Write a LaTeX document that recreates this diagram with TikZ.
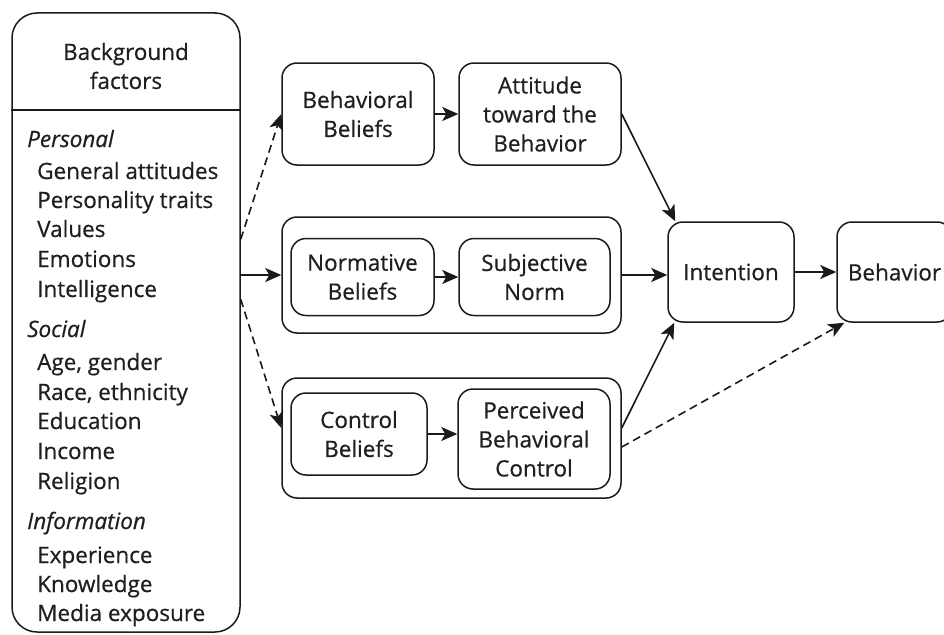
\documentclass[tikz,border=0pt]{standalone}
\usepackage{fontspec}
\setmainfont{Open Sans}[FakeBold=0.6]
\usetikzlibrary{arrows.meta,calc}
\definecolor{txt}{HTML}{1F1F1F}
\definecolor{ln}{HTML}{1A1A1A}
\begin{document}
\begin{tikzpicture}[x=1pt,y=-1pt,
  font=\fontsize{22.5}{29}\selectfont,
  box/.style={draw=ln,line width=1.5pt,rounded corners=15pt,inner sep=0pt,align=center,text=txt},
  item/.style={anchor=base west,inner sep=0pt,text=txt},
  head/.style={anchor=base west,inner sep=0pt,text=txt,font=\fontsize{22.5}{29}\selectfont\itshape},
  arr/.style={draw=ln,line width=1.6pt,-{Stealth[length=16pt,width=14pt,inset=4pt]}},
  darr/.style={arr,dash pattern=on 8pt off 5pt}
]
\useasboundingbox (0,0) rectangle (944,634);
\clip (0,0) rectangle (944,634);

% background factors box
\node[box,rounded corners=25pt,minimum width=228pt,minimum height=619pt] (bg) at (126,322.5) {};
\draw[draw=ln,line width=1.5pt] (bg.west |- 0,110) -- (bg.east |- 0,110);
\node[inner sep=0pt,align=center,text=txt] (bgt) at (126,66) {Background\\factors};
\node[head] (h1) at (27,147) {Personal};
\node[item] (i1) at (37,179) {General attitudes};
\node[item] (i2) at (37,208) {Personality traits};
\node[item] (i3) at (37,237) {Values};
\node[item] (i4) at (37,267) {Emotions};
\node[item] (i5) at (37,297) {Intelligence};
\node[head] (h2) at (27,337) {Social};
\node[item] (i6) at (37,370) {Age, gender};
\node[item] (i7) at (37,400) {Race, ethnicity};
\node[item] (i8) at (37,429) {Education};
\node[item] (i9) at (37,459) {Income};
\node[item] (i10) at (37,489) {Religion};
\node[head] (h3) at (27,529) {Information};
\node[item] (i11) at (37,563) {Experience};
\node[item] (i12) at (37,592) {Knowledge};
\node[item] (i13) at (37,621) {Media exposure};

% middle column
\node[box,minimum width=152pt,minimum height=102pt] (bb) at (358,114) {Behavioral\\Beliefs};
\node[box,minimum width=162pt,minimum height=102pt] (att) at (540,114) {Attitude\\toward the\\Behavior};
\node[box,minimum width=339pt,minimum height=116pt] (nout) at (451.5,275) {};
\node[box,minimum width=143pt,minimum height=77pt] (nb) at (362.5,277) {Normative\\Beliefs};
\node[box,minimum width=151pt,minimum height=77pt] (sn) at (534.5,277) {Subjective\\Norm};
\node[box,minimum width=339pt,minimum height=120pt] (cout) at (451.5,438) {};
\node[box,minimum width=136pt,minimum height=82pt] (cb) at (359,434) {Control\\Beliefs};
\node[box,minimum width=152pt,minimum height=100pt] (pbc) at (534,439) {Perceived\\Behavioral\\Control};

% right column
\node[box,minimum width=126pt,minimum height=100pt] (int) at (731,272) {Intention};
\node[box,minimum width=115pt,minimum height=100pt] (beh) at (894.5,272) {Behavior};

% connector ends
\coordinate (bgUp) at ($(bg.north east)+(0,227)$);
\coordinate (bgDn) at ($(bg.north east)+(0,287)$);
\coordinate (cUp) at ($(cout.west)+(0,-10)$);
\coordinate (cEa) at ($(cout.east)+(0,-10)$);
\coordinate (cEb) at ($(cout.east)+(0,9)$);

% connectors
\draw[darr] (bgUp) -- (bb.west);
\draw[arr] (bg.east |- nout.west) -- (nout.west);
\draw[darr] (bgDn) -- (cUp);
\draw[arr] (bb.east) -- (att.west);
\draw[arr] (nb.east |- sn.west) -- (sn.west);
\draw[arr] (cb.east) -- (cb.east -| pbc.west);
\draw[arr] (att.east) -- ($(int.north west)+(8,0)$);
\draw[arr] (nout.east) -- (nout.east -| int.west);
\draw[arr] (cEa) -- ($(int.south west)+(7,0)$);
\draw[darr] (cEb) -- ($(beh.south west)+(8,0)$);
\draw[arr] (int.east) -- (beh.west);
\end{tikzpicture}
\end{document}
